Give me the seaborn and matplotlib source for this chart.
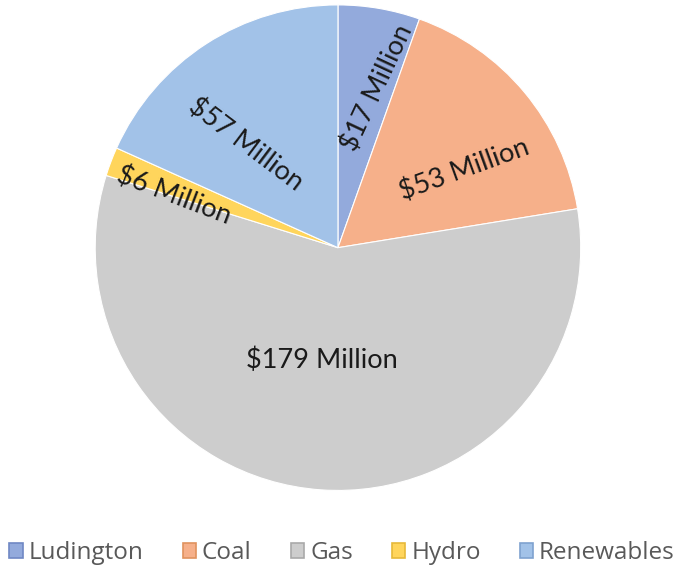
import matplotlib
matplotlib.use("Agg")
import matplotlib.pyplot as plt
import seaborn as sns
from matplotlib.patches import Patch
import numpy as np

categories = ["Ludington", "Coal", "Gas", "Hydro", "Renewables"]
values = [17, 53, 179, 6, 57]
labels = ["$17 Million", "$53 Million", "$179 Million", "$6 Million", "$57 Million"]
colors = ["#93AADC", "#F6B08A", "#CDCDCD", "#FFD55C", "#A2C2E8"]
edge_colors = ["#6F88C4", "#E0925E", "#A9A9A9", "#E6B93A", "#7FA2CF"]

# label layout: (radius fraction, angle offset from wedge middle in deg, text rotation)
label_layout = [(0.68, -4, 65), (0.61, -8, 20), (0.47, -4, 0), (0.71, 3, -21), (0.57, 9, -37)]

sns.set_theme(style="white")
plt.rcParams["font.family"] = ["Lato", "DejaVu Sans"]

fig = plt.figure(figsize=(6.8, 5.74), dpi=100)
ax = fig.add_axes([0.140, 0.145, 0.714, 0.847])
wedges, _ = ax.pie(values, colors=colors, startangle=90, counterclock=False,
                   wedgeprops=dict(edgecolor="white", linewidth=0.8))
ax.set_xlim(-1, 1)
ax.set_ylim(-1, 1)
ax.set_aspect("equal")

for w, lab, (r, off, rot) in zip(wedges, labels, label_layout):
    mid = np.deg2rad((w.theta1 + w.theta2) / 2 + off)
    ax.text(r * np.cos(mid), r * np.sin(mid), lab, ha="center", va="center",
            rotation=rot, rotation_mode="anchor", fontsize=19.5, color="#1a1a1a")

handles = [Patch(facecolor=c, edgecolor=e, linewidth=1.2, label=n)
           for c, e, n in zip(colors, edge_colors, categories)]
fig.legend(handles=handles, loc="center", bbox_to_anchor=(0.503, 1 - 553 / 574), ncol=5,
           frameon=False, prop={"family": ["Open Sans", "DejaVu Sans"], "size": 17.5},
           handlelength=0.55, handleheight=0.55,
           handletextpad=0.25, columnspacing=1.6, labelcolor="#595959")

fig.savefig("out.png", dpi=100, facecolor="white")
